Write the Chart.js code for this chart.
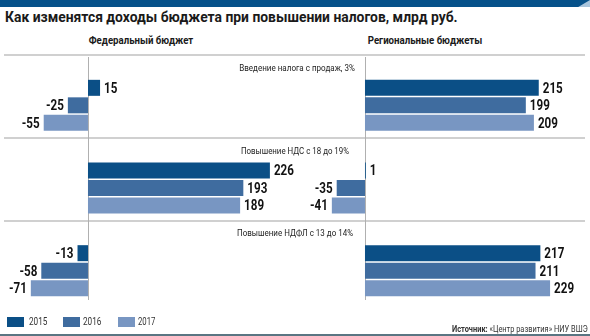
<!DOCTYPE html>
<html>
<head>
<meta charset="utf-8">
<script src="https://cdn.jsdelivr.net/npm/chart.js@4"></script>
<style>
  body { margin: 0; background: #fff; }
  #page { position: relative; width: 590px; height: 336px; overflow: hidden; font-family: Roboto, "Noto Sans", sans-serif; color: #1a1a1a; }
  .abs { position: absolute; white-space: nowrap; }
  canvas { position: absolute; top: 0; }
  .sep { position: absolute; left: 4px; width: 581px; height: 2px; background: #d0d0d0; }
  .sec { position: absolute; font-size: 9.5px; line-height: 9.5px; color: #222; z-index: 2; white-space: nowrap; }
  .sw { position: absolute; top: 317px; width: 17px; height: 10px; }
  .lg { position: absolute; top: 316.6px; font-size: 10px; line-height: 10px; color: #333; }
</style>
</head>
<body>
<div id="page">
  <div class="abs" style="left:0;top:0;width:590px;height:7px;background:#a8c4dc;"></div>
  <div class="abs" style="left:0;top:0;width:590px;height:7px;background:#06518a;clip-path:polygon(0 0,100% 0,98% 100%,0 100%);"></div>
  <div class="abs fit" data-w="453" data-a="left" style="left:5px;top:10px;font-size:14px;line-height:14px;font-weight:bold;">Как изменятся доходы бюджета при повышении налогов, млрд руб.</div>
  <div class="abs fit" data-w="105" data-a="center" style="left:141px;top:35.6px;font-size:10px;line-height:10px;font-weight:bold;">Федеральный бюджет</div>
  <div class="abs fit" data-w="115" data-a="center" style="left:424.5px;top:35.6px;font-size:10px;line-height:10px;font-weight:bold;">Региональные бюджеты</div>
  <div class="sep" style="top:54px;"></div>
  <div class="sep" style="top:137px;"></div>
  <div class="sep" style="top:220px;"></div>
  <div class="sec fit" data-w="116" data-a="center" style="left:297px;top:62.5px;">Введение налога с продаж, 3%</div>
  <div class="sec fit" data-w="108" data-a="center" style="left:295px;top:145.5px;">Повышение НДС с 18 до 19%</div>
  <div class="sec fit" data-w="116" data-a="center" style="left:295px;top:228px;">Повышение НДФЛ с 13 до 14%</div>
  <canvas id="fed" width="300" height="336" style="left:0;"></canvas>
  <canvas id="reg" width="290" height="336" style="left:300px;"></canvas>
  <div class="sw" style="left:7px;background:#0b4f86;"></div><div class="lg fit" data-w="18" data-a="left" style="left:29px;">2015</div>
  <div class="sw" style="left:63px;background:#3f6c9f;"></div><div class="lg fit" data-w="18" data-a="left" style="left:83px;">2016</div>
  <div class="sw" style="left:118px;background:#7896c2;"></div><div class="lg fit" data-w="17" data-a="left" style="left:138px;">2017</div>
  <div class="abs fit" data-w="136" data-a="right" style="right:2px;top:324px;font-size:9.5px;line-height:9.5px;color:#333;"><b>Источник:</b> «Центр развития» НИУ ВШЭ</div>
  <div class="abs" style="left:0;top:334px;width:590px;height:2px;background:#5a7582;"></div>
</div>
<script>
// sections (one category per tax change)
const sections = ['Введение налога с продаж, 3%', 'Повышение НДС с 18 до 19%', 'Повышение НДФЛ с 13 до 14%'];
const years = ['2015', '2016', '2017'];
const colors = ['#0b4f86', '#3f6c9f', '#7896c2'];

// federal budget, by year, per section
const fed2015 = [15, 226, -13];
const fed2016 = [-25, 193, -58];
const fed2017 = [-55, 189, -71];

// regional budgets, by year, per section
const reg2015 = [215, 1, 217];
const reg2016 = [199, -35, 211];
const reg2017 = [209, -41, 229];

const labelFont = 'bold 15.5px Roboto, sans-serif';

// squeeze html text to the widths of the condensed original
function fitTexts() {
  document.querySelectorAll('.fit').forEach(el => {
    const s = +el.dataset.w / el.offsetWidth;
    const a = el.dataset.a;
    if (a === 'center') {
      el.style.transformOrigin = 'center';
      el.style.transform = 'translateX(-50%) scaleX(' + s + ')';
    } else {
      el.style.transformOrigin = a;
      el.style.transform = 'scaleX(' + s + ')';
    }
  });
}

// zero line + value labels
const barLabels = {
  id: 'barLabels',
  beforeDatasetsDraw(chart) {
    const ctx = chart.ctx;
    const x0 = Math.round(chart.scales.x.getPixelForValue(0)) + 0.5;
    ctx.save();
    ctx.strokeStyle = '#b0b0b0';
    ctx.lineWidth = 1;
    ctx.beginPath();
    ctx.moveTo(x0, 57);
    ctx.lineTo(x0, 300);
    ctx.stroke();
    ctx.restore();
  },
  afterDatasetsDraw(chart) {
    const ctx = chart.ctx;
    ctx.save();
    ctx.font = labelFont;
    const sx = 20 / ctx.measureText('215').width;
    ctx.fillStyle = '#111';
    ctx.textBaseline = 'middle';
    chart.data.datasets.forEach((ds, i) => {
      chart.getDatasetMeta(i).data.forEach((bar, j) => {
        const v = ds.data[j];
        ctx.save();
        if (v >= 0) {
          ctx.translate(bar.x + 4, bar.y + 1);
          ctx.textAlign = 'left';
        } else {
          ctx.translate(bar.x - 4, bar.y + 1);
          ctx.textAlign = 'right';
        }
        ctx.scale(sx, 1);
        ctx.fillText(String(v), 0, 0);
        ctx.restore();
      });
    });
    ctx.restore();
  }
};

function makeChart(id, series, min, max) {
  new Chart(document.getElementById(id), {
    type: 'bar',
    data: {
      labels: sections,
      datasets: series.map((d, i) => ({
        label: years[i],
        data: d,
        backgroundColor: colors[i],
        borderWidth: 0,
        categoryPercentage: 0.635,
        barPercentage: 0.914
      }))
    },
    options: {
      indexAxis: 'y',
      responsive: false,
      animation: false,
      layout: { padding: { top: 64, bottom: 24, left: 0, right: 0 } },
      scales: {
        x: { type: 'linear', min: min, max: max, display: false },
        y: { display: false }
      },
      plugins: { legend: { display: false }, tooltip: { enabled: false } }
    },
    plugins: [barLabels]
  });
}

Promise.all([
  document.fonts.load(labelFont),
  document.fonts.load('bold 14px Roboto'),
  document.fonts.load('10px Roboto')
]).catch(() => {}).then(() => {
  fitTexts();
  makeChart('fed', [fed2015, fed2016, fed2017], -109.3, 263.4);
  makeChart('reg', [reg2015, reg2016, reg2017], -80.4, 278.4);
});
</script>
</body>
</html>
